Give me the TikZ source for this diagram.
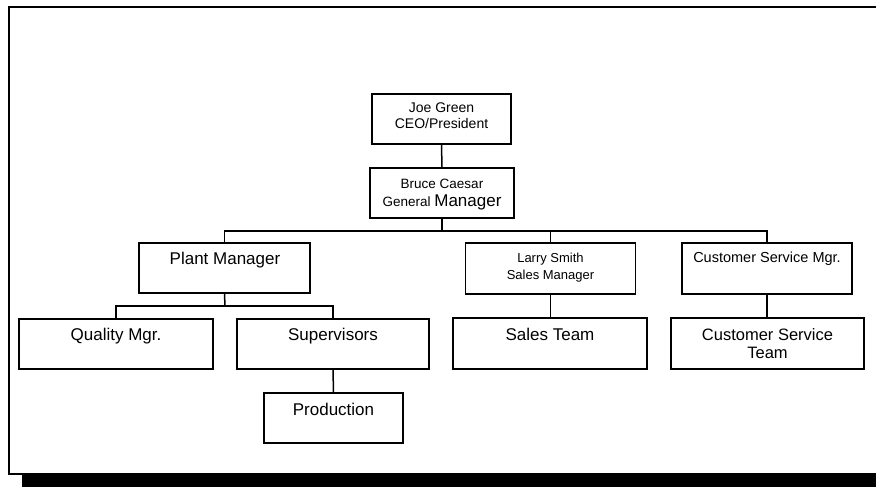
\documentclass[tikz,border=0pt]{standalone}
\usepackage{fontspec}
\setmainfont{Liberation Sans}
\begin{document}
\begin{tikzpicture}[x=1pt,y=-1pt,
  box/.style={draw=black,line width=1.5pt,rectangle,inner sep=0pt,fill=white},
  conn/.style={draw=black,line width=1.5pt},
  lbl/.style={anchor=base,inner sep=0pt},
  fs/.style={font=\fontsize{#1}{#1}\selectfont}]
\useasboundingbox (0,0) rectangle (876,487);
% frame and shadow bar
\fill[black] (22,473.5) rectangle (876,487);
\draw[line width=2pt] (880,7.5) -- (9,7.5) -- (9,473.5) -- (880,473.5);
% boxes
\node[box,minimum width=139pt,minimum height=50pt] (joe) at (441.5,119) {};
\node[box,minimum width=144pt,minimum height=50pt] (bruce) at (442,193) {};
\node[box,minimum width=171pt,minimum height=50pt] (plant) at (224.5,268) {};
\node[box,minimum width=170pt,minimum height=51pt] (larry) at (550.5,268.5) {};
\node[box,minimum width=170pt,minimum height=51pt] (csm) at (767,268.5) {};
\node[box,minimum width=194pt,minimum height=50pt] (quality) at (116,344) {};
\node[box,minimum width=192pt,minimum height=50pt] (super) at (333,344) {};
\node[box,minimum width=194pt,minimum height=51pt] (sales) at (550,343.5) {};
\node[box,minimum width=193pt,minimum height=51pt] (cst) at (767.5,343.5) {};
\node[box,minimum width=139pt,minimum height=50pt] (prod) at (333.5,418) {};
% labels
\node[lbl,fs=14] (t1) at (441.5,112.5) {Joe Green};
\node[lbl,fs=14] (t2) at (441.5,128.5) {CEO/President};
\node[lbl,fs=13.5] (t3) at (442,188) {Bruce Caesar};
\node[lbl] (t4) at (442,206) {\fontsize{13.5}{14}\selectfont General \fontsize{17}{18}\selectfont Manager};
\node[lbl,fs=17] (t5) at (225,264) {Plant Manager};
\node[lbl,fs=13] (t6) at (550.5,262) {Larry Smith};
\node[lbl,fs=13] (t7) at (550.5,279) {Sales Manager};
\node[lbl,fs=14.5] (t8) at (767,262) {Customer Service Mgr.};
\node[lbl,fs=17] (t9) at (116,340) {Quality Mgr.};
\node[lbl,fs=17] (t10) at (333,340) {Supervisors};
\node[lbl,fs=17] (t11) at (550,340) {Sales Team};
\node[lbl,fs=16.5] (t12) at (767.5,340) {Customer Service};
\node[lbl,fs=16.5] (t13) at (767.5,358.5) {Team};
\node[lbl,fs=17] (t14) at (333.5,415) {Production};
% connectors
\coordinate (bus1) at (442,231);
\coordinate (bus2) at (225,306);
\draw[conn] (joe.south) -- (bruce.north);
\draw[conn] (bruce.south) -- (bus1);
\draw[conn] (plant.north) -- (plant.north |- bus1) -- (csm.north |- bus1) -- (csm.north);
\draw[conn] (larry.north) -- (larry.north |- bus1);
\draw[conn] (plant.south) -- (bus2);
\draw[conn] (quality.north) -- (quality.north |- bus2) -- (super.north |- bus2) -- (super.north);
\draw[conn] (larry.south) -- (larry.south |- sales.north);
\draw[conn] (csm.south) -- (csm.south |- cst.north);
\draw[conn] (super.south) -- (prod.north);
\end{tikzpicture}
\end{document}
